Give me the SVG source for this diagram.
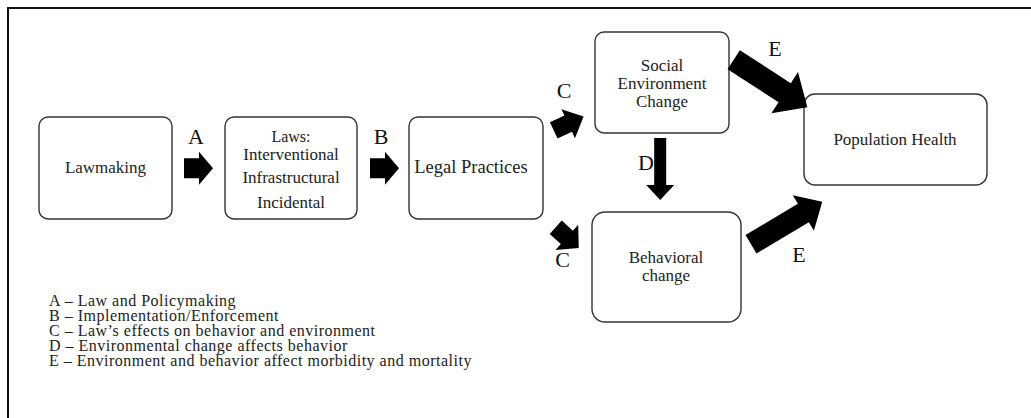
<svg xmlns="http://www.w3.org/2000/svg" width="1031" height="418" viewBox="0 0 1031 418">
<style>
text{font-family:'Liberation Serif','Times New Roman',Times,serif}
.box{fill:#fff;stroke:#333;stroke-width:1.4}
.t{font-size:17px;fill:#222;text-anchor:middle}
.lbl{font-size:22px;fill:#111;text-anchor:middle}
.leg{font-size:16px;fill:#222;letter-spacing:0.5px}
.arr{fill:#000}
</style>
<rect x="0" y="0" width="1031" height="418" fill="#fff"/>
<rect x="8" y="8" width="1100" height="500" fill="none" stroke="#111" stroke-width="2"/>

<g id="lawmaking"><rect class="box" x="39" y="117" width="133" height="102" rx="9"/><text class="t" x="105.5" y="173" font-family="Liberation Serif, serif">Lawmaking</text></g>
<g id="laws"><rect class="box" x="225" y="117" width="132" height="102" rx="9"/>
<text class="t" x="291" y="142" style="font-size:16px" font-family="Liberation Serif, serif">Laws:</text>
<text class="t" x="291" y="160" font-family="Liberation Serif, serif">Interventional</text>
<text class="t" x="291" y="183" font-family="Liberation Serif, serif">Infrastructural</text>
<text class="t" x="291" y="208" font-family="Liberation Serif, serif">Incidental</text></g>
<g id="legal"><rect class="box" x="409" y="117" width="134" height="102" rx="9"/><text class="t" x="471" y="173" style="font-size:18.5px" font-family="Liberation Serif, serif">Legal Practices</text></g>
<g id="social"><rect class="box" x="595" y="32" width="134" height="101" rx="9"/>
<text class="t" x="662" y="71" font-family="Liberation Serif, serif">Social</text>
<text class="t" x="662" y="89" font-family="Liberation Serif, serif">Environment</text>
<text class="t" x="662" y="107" font-family="Liberation Serif, serif">Change</text></g>
<g id="population"><rect class="box" x="804" y="94" width="183" height="91" rx="11"/><text class="t" x="895" y="145" font-family="Liberation Serif, serif">Population Health</text></g>
<g id="behavioral"><rect class="box" x="592" y="212" width="149" height="110" rx="13"/>
<text class="t" x="666" y="263" font-family="Liberation Serif, serif">Behavioral</text>
<text class="t" x="666" y="281" font-family="Liberation Serif, serif">change</text></g>

<g id="connectors">
<path class="arr" transform="translate(184,168.3)" d="M0,-10 H15 V-16.5 L29,0 L15,16.5 V10 H0 Z"/>
<path class="arr" transform="translate(370,168.3)" d="M0,-10 H15 V-16.5 L29,0 L15,16.5 V10 H0 Z"/>
<path class="arr" transform="translate(553.7,130.4) rotate(-25)" d="M0,-9 H16 V-16 L33,0 L16,16 V9 H0 Z"/>
<path class="arr" transform="translate(555.7,227.3) rotate(42)" d="M0,-9 H15 V-17 L31,0 L15,17 V9 H0 Z"/>
<path class="arr" transform="translate(660.2,138) rotate(90)" d="M0,-6 H47 V-14 L62,0 L47,14 V6 H0 Z"/>
<path class="arr" transform="translate(733.7,59.7) rotate(32.9)" d="M0,-11.3 H60.7 V-24.5 L87.7,0 L60.7,24.5 V11.3 H0 Z"/>
<path class="arr" transform="translate(751,244.3) rotate(-30.9)" d="M0,-10.7 H61 V-20.6 L83,0 L61,20.6 V10.7 H0 Z"/>
<text class="lbl" x="196" y="144" font-family="Liberation Serif, serif">A</text>
<text class="lbl" x="381" y="144" font-family="Liberation Serif, serif">B</text>
<text class="lbl" x="564" y="98" font-family="Liberation Serif, serif">C</text>
<text class="lbl" x="562.5" y="267" font-family="Liberation Serif, serif">C</text>
<text class="lbl" x="646" y="170" font-family="Liberation Serif, serif">D</text>
<text class="lbl" x="775" y="56" font-family="Liberation Serif, serif">E</text>
<text class="lbl" x="799" y="262" font-family="Liberation Serif, serif">E</text>
</g>

<g id="legend">
<text class="leg" x="49" y="305.5" font-family="Liberation Serif, serif">A – Law and Policymaking</text>
<text class="leg" x="49" y="320.5" font-family="Liberation Serif, serif">B – Implementation/Enforcement</text>
<text class="leg" x="49" y="335.5" font-family="Liberation Serif, serif">C – Law’s effects on behavior and environment</text>
<text class="leg" x="49" y="350.5" font-family="Liberation Serif, serif">D – Environmental change affects behavior</text>
<text class="leg" x="49" y="366" font-family="Liberation Serif, serif">E – Environment and behavior affect morbidity and mortality</text>
</g>
</svg>
